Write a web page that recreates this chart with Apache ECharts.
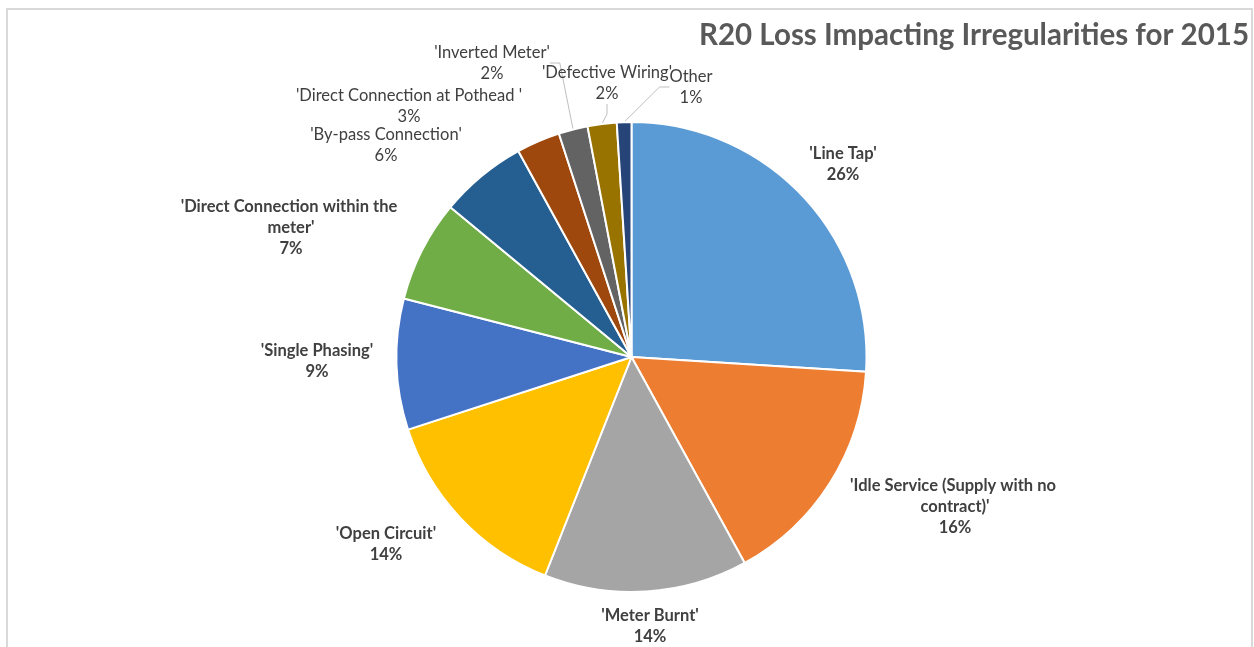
<!DOCTYPE html>
<html>
<head>
<meta charset="utf-8">
<script src="https://cdn.jsdelivr.net/npm/echarts@6/dist/echarts.min.js"></script>
<style>
  html, body { margin: 0; padding: 0; background: #fff; }
  #chart { width: 1254px; height: 647px; }
</style>
</head>
<body>
<div id="chart"></div>
<script>
// Irregularity categories, clockwise from 12 o'clock
const categories = [
  "'Line Tap'",
  "'Idle Service (Supply with no contract)'",
  "'Meter Burnt'",
  "'Open Circuit'",
  "'Single Phasing'",
  "'Direct Connection within the meter'",
  "'By-pass Connection'",
  "'Direct Connection at Pothead '",
  "'Inverted Meter'",
  "'Defective Wiring'",
  "Other"
];
// Share of loss-impacting irregularities (%)
const shares = [26, 16, 14, 14, 9, 7, 6, 3, 2, 2, 1];

const colors = ['#5B9BD5', '#ED7D31', '#A5A5A5', '#FFC000', '#4472C4', '#70AD47',
                '#255E91', '#9E480E', '#636363', '#997300', '#264478'];

// Label block centres and styling per slice
const labelSpots = [
  [843, 164], [955, 507], [650, 626], [386, 544], [317, 361], [291, 228],
  [386, 145], [409, 106], [492, 63], [607, 83], [691, 87]
];
const boldLabel = [true, true, true, true, true, true, false, false, false, false, false];
const labelWrap = [0, 240, 0, 0, 0, 250, 0, 0, 0, 0, 0];
const showLeader = [false, false, false, false, false, false, false, false, true, true, true];

const chart = echarts.init(document.getElementById('chart'), null, { renderer: 'canvas' });

const seriesData = categories.map((name, i) => {
  const item = {
    name: name,
    value: shares[i],
    itemStyle: { color: colors[i] },
    label: { fontWeight: boldLabel[i] ? 'bold' : 'normal' },
    labelLine: { show: showLeader[i] }
  };
  if (labelWrap[i]) {
    item.label.width = labelWrap[i];
    item.label.overflow = 'break';
  }
  return item;
});

chart.setOption({
  animation: false,
  backgroundColor: '#ffffff',
  title: {
    text: 'R20 Loss Impacting Irregularities for 2015',
    right: 0,
    top: 15,
    textStyle: {
      fontFamily: 'Lato',
      fontWeight: 'bold',
      fontSize: 29.5,
      color: '#595959'
    }
  },
  graphic: [{
    type: 'rect',
    shape: { x: 7, y: 9, width: 1245, height: 660 },
    style: { fill: 'none', stroke: '#d9d9d9', lineWidth: 2 },
    silent: true
  }],
  series: [{
    type: 'pie',
    center: [631.5, 357],
    radius: 235,
    startAngle: 90,
    clockwise: true,
    avoidLabelOverlap: false,
    itemStyle: { borderColor: '#ffffff', borderWidth: 2 },
    label: {
      show: true,
      position: 'outside',
      formatter: '{b}\n{d}%',
      fontFamily: 'Lato',
      fontSize: 16.5,
      lineHeight: 21,
      color: '#404040',
      align: 'center'
    },
    labelLine: {
      show: false,
      length: 10,
      length2: 10,
      lineStyle: { color: '#bfbfbf', width: 1 }
    },
    labelLayout: function (params) {
      const p = labelSpots[params.dataIndex];
      return { x: p[0], y: p[1], align: 'center', verticalAlign: 'middle' };
    },
    data: seriesData
  }]
});
</script>
</body>
</html>
